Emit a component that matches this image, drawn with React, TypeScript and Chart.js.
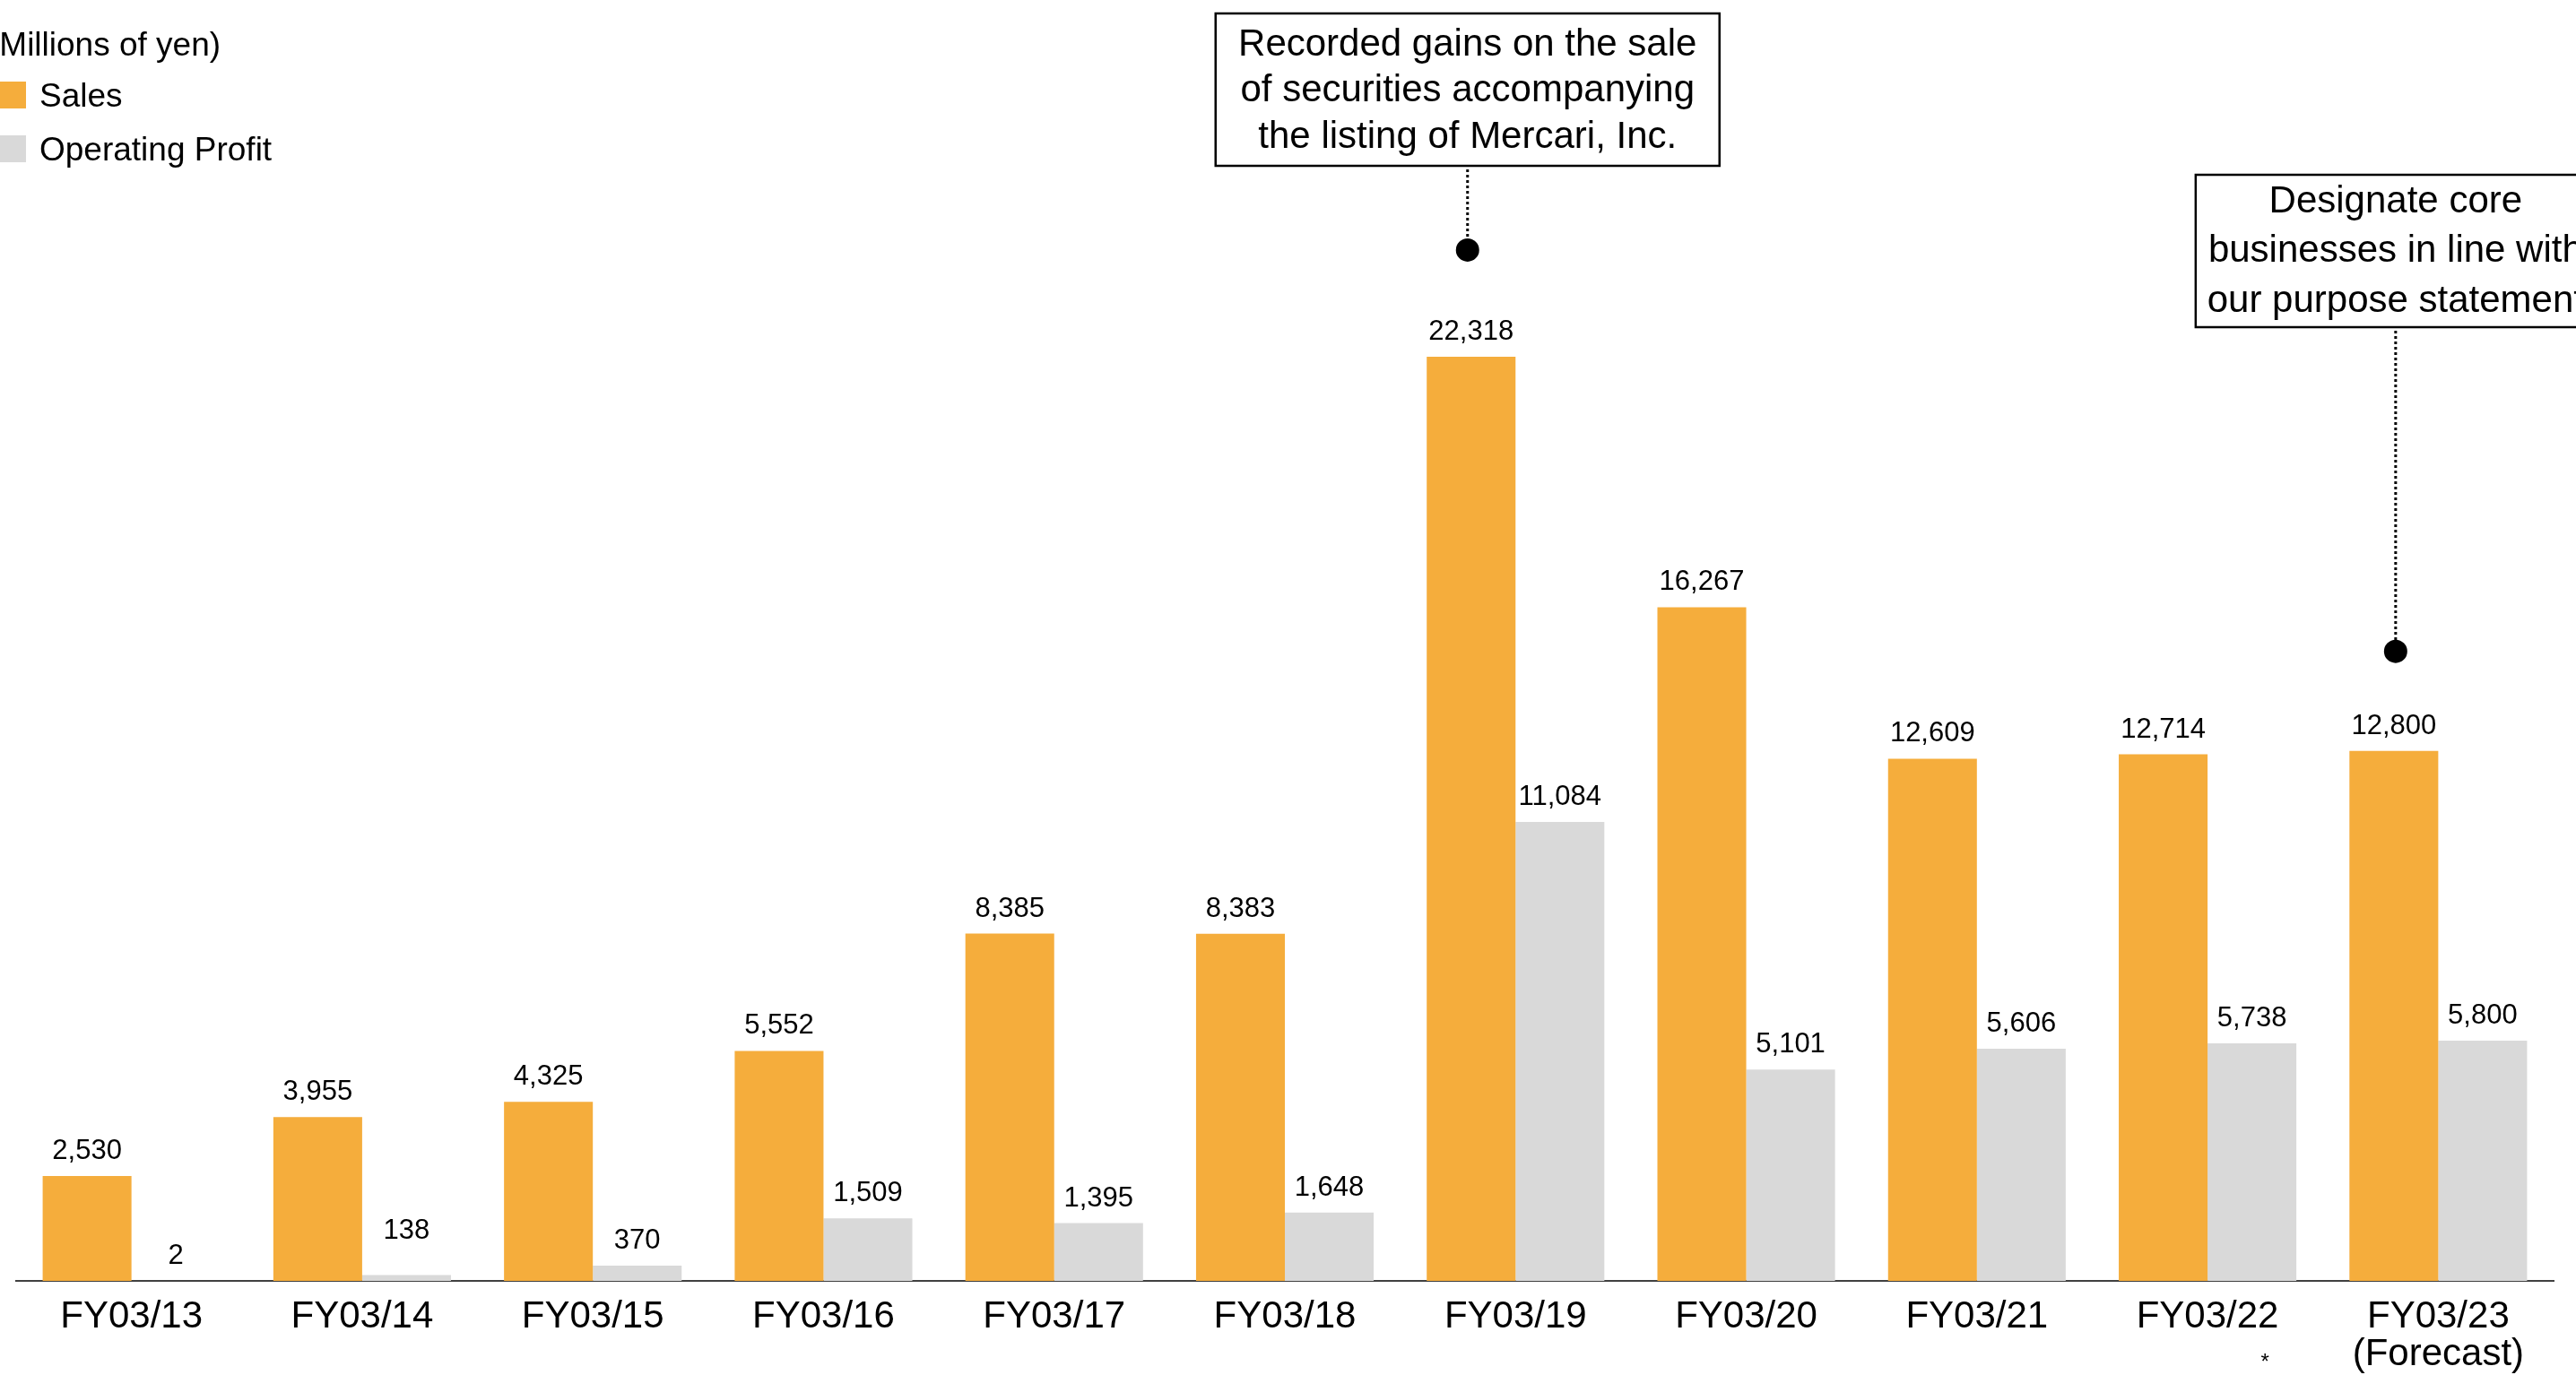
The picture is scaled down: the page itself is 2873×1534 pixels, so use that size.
import { useEffect, useRef } from "react";
import { Chart, registerables } from "chart.js";

Chart.register(...registerables);

// ---- data ----
const fiscalYears: (string | string[])[] = [
  "FY03/13",
  "FY03/14",
  "FY03/15",
  "FY03/16",
  "FY03/17",
  "FY03/18",
  "FY03/19",
  "FY03/20",
  "FY03/21",
  "FY03/22",
  ["FY03/23", "(Forecast)"],
];
const sales = [2530, 3955, 4325, 5552, 8385, 8383, 22318, 16267, 12609, 12714, 12800];
const operatingProfit = [2, 138, 370, 1509, 1395, 1648, 11084, 5101, 5606, 5738, 5800];
const seriesNames = ["Sales", "Operating Profit"];
const unitLabel = "(Millions of yen)";
const footnoteMark = "*";
const footnoteIndex = 9;

const noteTexts = [
  ["Recorded gains on the sale", "of securities accompanying", "the listing of Mercari, Inc."],
  ["Designate core", "businesses in line with", "our purpose statement"],
];
const noteIndexes = [6, 10];

// ---- styles ----
const FONT = '"Liberation Sans", Arial, Helvetica, sans-serif';
const SALES_COLOR = "#F5AD3C";
const PROFIT_COLOR = "#D9D9D9";
const AXIS_COLOR = "#404040";

// extra lift for value labels that sit higher than the rest (dataset:index)
const LABEL_LIFT: Record<string, number> = { "1:1": 22 };

// callout geometry (box top, box size, distance of the dot above the bar, text layout)
const NOTE_STYLE = [
  { top: 15, width: 562, height: 170, dotLift: 119, firstLine: 35, lineGap: 51.5, shift: -4 },
  { top: 195, width: 446, height: 170, dotLift: 111, firstLine: 30, lineGap: 55.5, shift: 2 },
];

const valueLabels = {
  id: "valueLabels",
  afterDatasetsDraw(chart: Chart) {
    const ctx = chart.ctx;
    ctx.save();
    ctx.font = `31px ${FONT}`;
    ctx.fillStyle = "#000";
    ctx.textAlign = "center";
    ctx.textBaseline = "alphabetic";
    chart.data.datasets.forEach((ds, di) => {
      const meta = chart.getDatasetMeta(di);
      meta.data.forEach((bar: any, i: number) => {
        const v = ds.data[i] as number;
        const lift = LABEL_LIFT[`${di}:${i}`] ?? 0;
        ctx.fillText(v.toLocaleString("en-US"), bar.x, bar.y - 19 - lift);
      });
    });
    ctx.restore();
  },
};

const decorations = {
  id: "decorations",
  afterDraw(chart: Chart) {
    const ctx = chart.ctx;
    ctx.save();

    // unit caption and legend in the top-left corner
    ctx.fillStyle = "#000";
    ctx.textAlign = "left";
    ctx.textBaseline = "middle";
    ctx.font = `37px ${FONT}`;
    ctx.fillText(unitLabel, -13, 52);
    ctx.font = `37px ${FONT}`;
    chart.data.datasets.forEach((ds, di) => {
      const y = 91 + di * 60;
      ctx.fillStyle = ds.backgroundColor as string;
      ctx.fillRect(-2, y, 31, 30);
      ctx.fillStyle = "#000";
      ctx.fillText(ds.label as string, 44, y + 18);
    });

    // footnote mark under one category label
    const xs = chart.scales.x;
    ctx.font = `24px ${FONT}`;
    ctx.textAlign = "center";
    ctx.fillText(footnoteMark, xs.getPixelForValue(footnoteIndex) + 64, 1520);

    // callouts anchored on the sales bars
    const meta = chart.getDatasetMeta(0);
    noteIndexes.forEach((idx, n) => {
      const st = NOTE_STYLE[n];
      const bar: any = meta.data[idx];
      const cx = bar.x + st.shift;
      const dotY = bar.y - st.dotLift;
      const left = cx - st.width / 2;

      ctx.fillStyle = "#fff";
      ctx.fillRect(left, st.top, st.width, st.height);
      ctx.strokeStyle = "#000";
      ctx.lineWidth = 2.5;
      ctx.setLineDash([]);
      ctx.strokeRect(left, st.top, st.width, st.height);

      ctx.fillStyle = "#000";
      ctx.font = `42px ${FONT}`;
      ctx.textAlign = "center";
      ctx.textBaseline = "middle";
      noteTexts[n].forEach((line, li) => {
        ctx.fillText(line, cx, st.top + st.firstLine + li * st.lineGap);
      });

      ctx.beginPath();
      ctx.setLineDash([3, 3]);
      ctx.lineWidth = 3;
      ctx.moveTo(cx, st.top + st.height + 4);
      ctx.lineTo(cx, dotY - 12);
      ctx.stroke();
      ctx.setLineDash([]);

      ctx.beginPath();
      ctx.arc(cx, dotY, 13, 0, Math.PI * 2);
      ctx.fill();
    });

    ctx.restore();
  },
};

export default function App() {
  const canvasRef = useRef<HTMLCanvasElement | null>(null);

  useEffect(() => {
    const canvas = canvasRef.current;
    if (!canvas) return;
    const chart = new Chart(canvas, {
      type: "bar",
      data: {
        labels: fiscalYears,
        datasets: [
          { label: seriesNames[0], data: sales, backgroundColor: SALES_COLOR },
          { label: seriesNames[1], data: operatingProfit, backgroundColor: PROFIT_COLOR },
        ],
      },
      options: {
        animation: false,
        responsive: false,
        maintainAspectRatio: false,
        devicePixelRatio: 1,
        layout: { padding: { top: 43, left: 18, right: 25, bottom: 0 } },
        datasets: { bar: { categoryPercentage: 0.77, barPercentage: 1 } },
        plugins: { legend: { display: false }, tooltip: { enabled: false } },
        scales: {
          x: {
            grid: { display: false, drawTicks: false },
            border: { display: true, color: AXIS_COLOR, width: 2 },
            ticks: {
              color: "#000",
              font: { family: FONT, size: 42, lineHeight: 1.0 },
              padding: 19,
              maxRotation: 0,
              autoSkip: false,
            },
            afterFit: (scale: any) => {
              scale.height = 105;
            },
          },
          y: { display: false, min: 0, max: 30000 },
        },
      },
      plugins: [valueLabels, decorations],
    });
    return () => chart.destroy();
  }, []);

  return (
    <div style={{ position: "fixed", left: 0, top: 0, width: 2873, height: 1534, background: "#fff" }}>
      <canvas ref={canvasRef} width={2873} height={1534} style={{ display: "block" }} />
    </div>
  );
}
